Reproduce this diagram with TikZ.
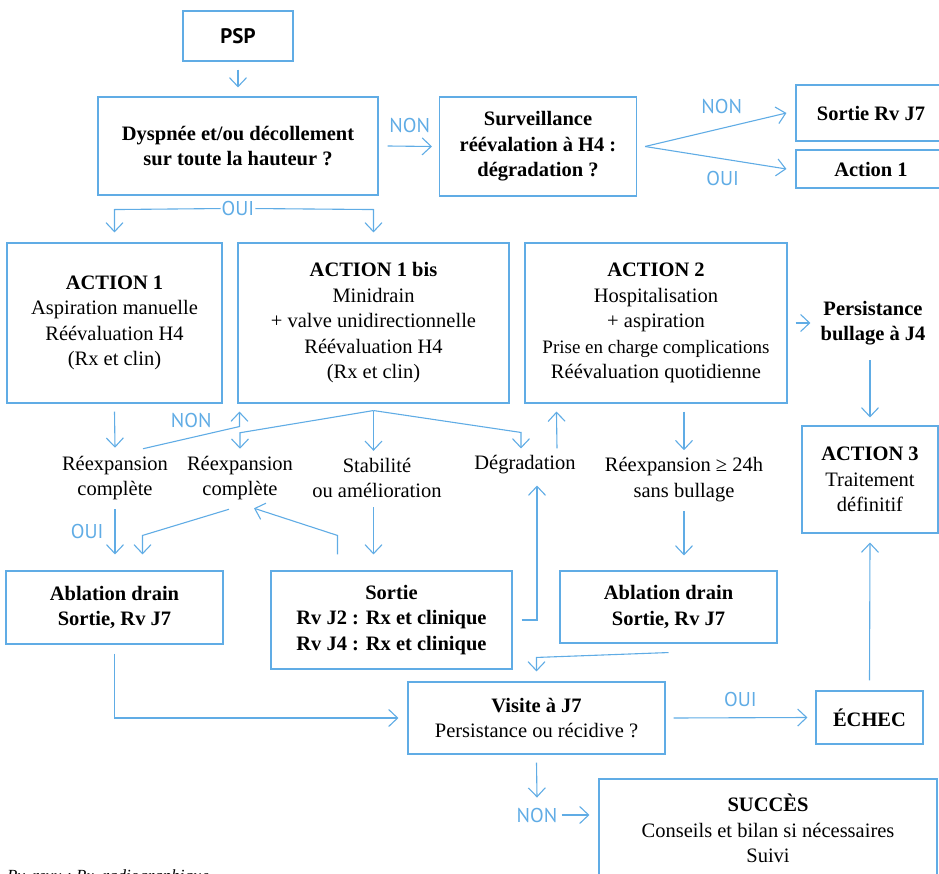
\documentclass[tikz,border=0pt]{standalone}
\usepackage{fontspec}
\setmainfont{Liberation Serif}
\setsansfont{PT Sans}
\usepackage{tikz}
\usetikzlibrary{positioning, arrows.meta, calc}
\definecolor{blau}{RGB}{96,172,229}
\tikzset{kasten/.style={rectangle,draw=blau,line width=1.1pt,align=center,inner sep=0pt},
	frei/.style={align=center,inner sep=0pt},
	etikett/.style={text=blau,font=\sffamily\fontsize{20}{24}\selectfont,inner sep=1pt},
	linie/.style={draw=blau,line width=1.1pt},
	pfeil/.style={linie,-{Straight Barb[length=9pt,width=17pt]}} }

\begin{document}
\begin{tikzpicture}
	[x=1pt, y=-1pt]
  \fontsize{20.5}{25.5}\selectfont
  \useasboundingbox (0,0) rectangle (939,874);

  % obere Reihe
  \node (psp) [kasten, minimum width=110, minimum height=50, font=\sffamily\bfseries\fontsize{21}{24}\selectfont] at (238,36) {PSP};
  \node (dys) [kasten, minimum width=280, minimum height=98, font=\bfseries] at (238,146) {Dyspnée et/ou décollement\\sur toute la hauteur~?};
  \node (surv) [kasten, minimum width=197, minimum height=99, font=\bfseries] at (538,146.5) {Surveillance\\réévalation à H4~:\\dégradation~?};
  \node (sortie7) [kasten, minimum width=150, minimum height=56, font=\bfseries] at (871,113) {Sortie Rv J7};
  \node (act1r) [kasten, minimum width=150, minimum height=38, font=\bfseries] at (871,169) {Action 1};

  % Aktionen
  \node (act1) [kasten, minimum width=215, minimum height=160] at (114.5,323) {\textbf{ACTION 1}\\Aspiration manuelle\\Réévaluation H4\\(Rx et clin)};
  \node (act1bis) [kasten, minimum width=271, minimum height=160] at (373.5,323) {\textbf{ACTION 1 bis}\\Minidrain\\+ valve unidirectionnelle\\Réévaluation H4\\(Rx et clin)};
  \node (act2) [kasten, minimum width=262, minimum height=160] at (656,323) {\textbf{ACTION 2}\\Hospitalisation\\+ aspiration\\{\fontsize{19}{25.5}\selectfont Prise en charge complications}\\Réévaluation quotidienne};
  \node (persist) [frei, font=\bfseries] at (873,323) {Persistance\\bullage à J4};
  \node (act3) [kasten, minimum width=136, minimum height=107] at (870,479.5) {\textbf{ACTION 3}\\Traitement\\définitif};

  % Zwischenergebnisse
  \node (reex1) [frei] at (115,478) {Réexpansion\\complète};
  \node (reex2) [frei] at (240,478) {Réexpansion\\complète};
  \node (stab) [frei] at (377,478) {Stabilité\\ou amélioration};
  \node (degr) [frei] at (525,465) {Dégradation};
  \node (reex24) [frei] at (684,479.5) {Réexpansion ≥ 24h\\sans bullage};

  % untere Reihe
  \node (abl1) [kasten, minimum width=217, minimum height=73, font=\bfseries] at (114.5,607.5) {Ablation drain\\Sortie, Rv J7};
  \node (sortie) [kasten, minimum width=241, minimum height=98, font=\bfseries] at (391.5,620) {Sortie\\Rv J2 : Rx et clinique\\Rv J4 : Rx et clinique};
  \node (abl2) [kasten, minimum width=217, minimum height=72, font=\bfseries] at (668.5,607) {Ablation drain\\Sortie, Rv J7};
  \node (visite) [kasten, minimum width=257, minimum height=72] at (536.5,718) {\textbf{Visite à J7}\\Persistance ou récidive~?};
  \node (echec) [kasten, minimum width=107, minimum height=53, font=\bfseries] at (869.5,717.5) {ÉCHEC};
  \node (succes) [kasten, minimum width=338, minimum height=99] at (768,828.5) {\textbf{SUCCÈS}\\Conseils et bilan si nécessaires\\Suivi};
  \node (legende) [anchor=base west, inner sep=0pt, font=\itshape\fontsize{17}{20}\selectfont] at (7,881) {Rv, revu ; Rx, radiographique};

  % Verbindungen oben
  \draw[pfeil] ([yshift=-8pt]psp.south) -- ([yshift=9pt]dys.north);
  \draw[pfeil] ([xshift=9pt]dys.east) -- node[etikett, above=12pt] {NON} ([xshift=-7pt]surv.west);
  \coordinate (gabel) at ([xshift=8pt]surv.east);
  \draw[pfeil] (gabel) -- node[etikett, above=14pt, xshift=6pt] {NON} ([xshift=-9pt]sortie7.west);
  \draw[pfeil] (gabel) -- node[etikett, below=12pt, xshift=7pt] {OUI} ([xshift=-9pt]act1r.west);
  \node (oui1) [etikett] at ([yshift=-13pt]dys.south) {OUI};
  \draw[pfeil] (oui1.west) -- ([yshift=-1pt]oui1.west -| act1.north) -- ([yshift=10pt]act1.north);
  \draw[pfeil] (oui1.east) -- ([yshift=-1pt]oui1.east -| act1bis.north) -- ([yshift=10pt]act1bis.north);

  % Verbindungen Mitte
  \draw[pfeil] ([yshift=-8pt]act1.south) -- ([yshift=8pt]reex1.north);
  \draw[pfeil] ($(reex1.north)+(28,-7)$) -- node[etikett, above=8pt] {NON} ([shift={(2pt,-23pt)}]act1bis.south west) -- ([shift={(2pt,-8pt)}]act1bis.south west);
  \coordinate (gabel2) at ([yshift=-7pt]act1bis.south);
  \draw[pfeil] (gabel2) -- ([yshift=23pt]reex2.north) -- ([yshift=7pt]reex2.north);
  \draw[pfeil] (gabel2) -- ([yshift=7pt]gabel2 |- stab.north);
  \draw[pfeil] (gabel2) -- ([shift={(-4pt,23pt)}]degr.north) -- ([shift={(-4pt,7pt)}]degr.north);
  \draw[pfeil] ([shift={(32pt,7pt)}]degr.north) -- ([shift={(32pt,-8pt)}]act2.south west);
  \draw[pfeil] ([yshift=-8pt]act2.south -| reex24.north) -- ([yshift=7pt]reex24.north);
  \draw[pfeil] ([xshift=8pt]act2.east) -- ([xshift=-10pt]persist.west);
  \draw[pfeil] ([yshift=-15pt]persist.south -| act3.north) -- ([yshift=8pt]act3.north);

  % Verbindungen nach unten
  \draw[pfeil] ([yshift=-9pt]reex1.south) -- node[etikett, left=10pt] {OUI} ([yshift=16pt]abl1.north -| reex1.south);
  \draw[pfeil] ([shift={(-11pt,-9pt)}]reex2.south) -- ([shift={(28pt,35pt)}]abl1.north) -- ([shift={(28pt,16pt)}]abl1.north);
  \draw[pfeil] ([shift={(-54pt,16pt)}]sortie.north) -- ([shift={(-54pt,35pt)}]sortie.north) -- ([shift={(14pt,-8pt)}]reex2.south);
  \draw[pfeil] ([yshift=-9pt]stab.south -| gabel2) -- ([yshift=16pt]sortie.north -| gabel2);
  \draw[pfeil] ([xshift=9pt]sortie.east) -| ([shift={(12pt,-11pt)}]degr.south);
  \draw[pfeil] ([yshift=-9pt]reex24.south) -- ([yshift=15pt]abl2.north -| reex24.south);

  % Verbindungen unten
  \draw[pfeil] ([yshift=-9pt]abl1.south) |- ([xshift=-9pt]visite.west);
  \draw[pfeil] ([yshift=-9pt]abl2.south) -- ([yshift=24pt]visite.north) -- ([yshift=10pt]visite.north);
  \draw[pfeil] ([xshift=8pt]visite.east) -- node[etikett, above=9pt] {OUI} ([xshift=-8pt]echec.west);
  \draw[pfeil] ([yshift=10pt]echec.north) -- ([yshift=-9pt]act3.south);
  \node (non3) [etikett] at (537,815) {NON};
  \draw[pfeil] ([yshift=-8pt]visite.south) -- ([yshift=9pt]non3.north);
  \draw[pfeil] ([xshift=3pt]non3.east) -- ([xshift=-9pt]succes.west |- non3.east);
\end{tikzpicture}
\end{document}
